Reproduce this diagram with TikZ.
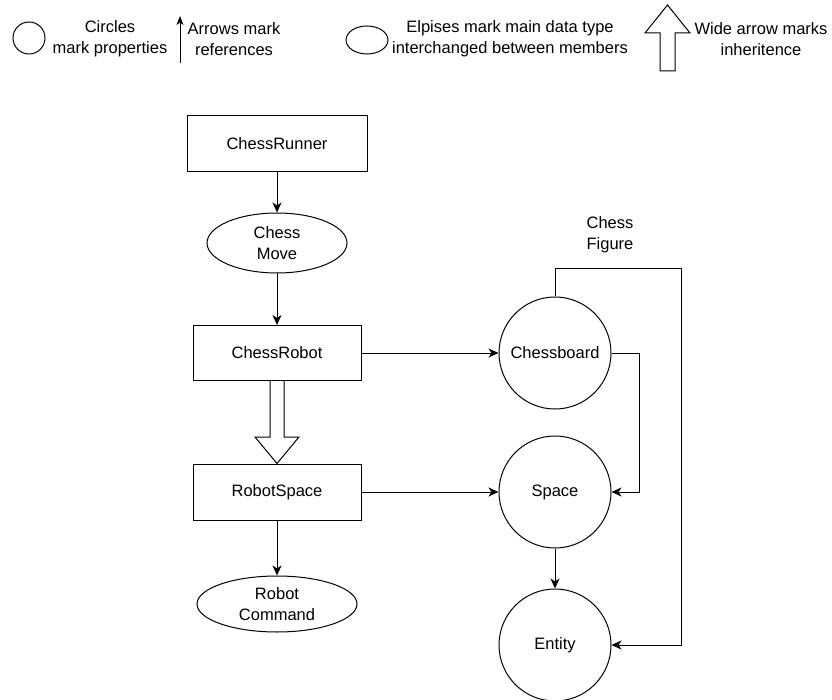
\documentclass[tikz,border=0pt]{standalone}
\usepackage{fontspec}
\setmainfont{Liberation Sans}
\usetikzlibrary{arrows.meta,calc,shapes.geometric}
\begin{document}
\begin{tikzpicture}[x=1pt,y=-1pt,
 lw/.style={line width=1pt},
 txt/.style={font=\fontsize{16.5}{21}\selectfont, align=center, inner sep=0pt},
 box/.style={draw, lw, minimum height=56pt, txt},
 dat/.style={draw, lw, ellipse, txt},
 prop/.style={draw, lw, circle, minimum size=112pt, txt},
 ref/.style={lw, -{Stealth[length=10pt,width=9pt,inset=3pt]}},
 wide/.style={draw, lw, fill=white, line join=miter}
]
\useasboundingbox (0,0) rectangle (832,700);

% legend
\node[draw, lw, circle, minimum size=32pt, inner sep=0pt] (lc) at (29,38) {};
\node[txt] (lct) at (110,39) {Circles\\mark properties};
\coordinate (la1) at (180,63);
\coordinate (la2) at (180,16);
\draw[lw, -{Stealth[length=9pt,width=7pt,inset=2.5pt]}] (la1) -- (la2);
\node[txt] (lat) at (234,39) {Arrows mark\\references};
\node[draw, lw, ellipse, minimum width=42pt, minimum height=28pt, inner sep=0pt] (le) at (367,40) {};
\node[txt] (let) at (510,39) {Elpises mark main data type\\interchanged between members};
\path[wide] (660,71) -- (660,33) -- (645,33) -- (667.5,5) -- (690,33) -- (675,33) -- (675,71) -- cycle;
\node[txt] (lwt) at (761,39) {Wide arrow marks\\inheritence};

% left column
\node[box, minimum width=180pt] (runner) at (277,144) {ChessRunner};
\node[dat, minimum width=140pt, minimum height=60pt] (move) at (277,243) {Chess\\Move};
\node[box, minimum width=168pt, minimum height=55pt] (robot) at (277,353) {ChessRobot};
\node[box, minimum width=168pt] (rspace) at (277,492) {RobotSpace};
\node[dat, minimum width=160pt, minimum height=56pt] (rcmd) at (277,604) {Robot\\Command};

% right column
\node[prop] (board) at (555,353) {Chessboard};
\node[prop] (space) at (555,492) {Space};
\node[prop] (entity) at (555,645) {Entity};
\node[txt] (cfl) at (610,235) {Chess\\Figure};

% connectors
\draw[ref] (runner) -- (move);
\draw[ref] (move) -- (robot);
\draw[ref] (rspace) -- (rcmd);
\draw[ref] (robot) -- (board);
\draw[ref] (rspace) -- (space);
\draw[ref] (space) -- (entity);
\draw[ref] (board.east) -- ++(28,0) |- (space.east);
\coordinate (cfr) at (681,269);
\draw[ref] (board.north) |- (cfr) |- (entity.east);

% inheritance arrow
\path[wide] ($(robot.south)+(-7,0)$) -- ++(0,56) -- ++(-15,0) -- (rspace.north) -- ($(robot.south)+(22,56)$) -- ++(-15,0) -- ($(robot.south)+(7,0)$);
\end{tikzpicture}
\end{document}
